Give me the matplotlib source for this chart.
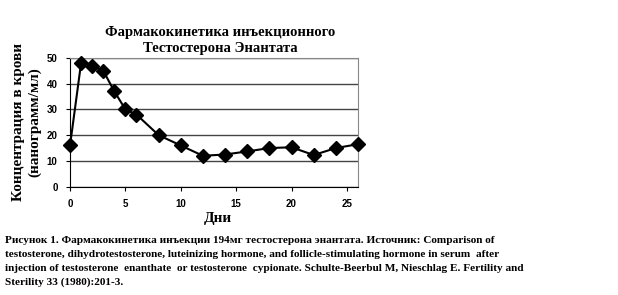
import matplotlib
matplotlib.use("Agg")
from matplotlib import pyplot as plt

days = [0, 1, 2, 3, 4, 5, 6, 8, 10, 12, 14, 16, 18, 20, 22, 24, 26]
conc = [16, 48, 47, 45, 37, 30, 28, 20, 16, 12, 12.5, 13.7, 15, 15.3, 12.3, 15, 16.5]

x_ticks = [0, 5, 10, 15, 20, 25]
y_ticks = [0, 10, 20, 30, 40, 50]

title = "Фармакокинетика инъекционного\nТестостерона Энантата"
ylabel = "Концентрация в крови\n(нанограмм/мл)"
xlabel = "Дни"
caption_lines = [
    "Рисунок 1. Фармакокинетика инъекции 194мг тестостерона энантата. Источник: Comparison of",
    "testosterone, dihydrotestosterone, luteinizing hormone, and follicle-stimulating hormone in serum  after",
    "injection of testosterone  enanthate  or testosterone  cypionate. Schulte-Beerbul M, Nieschlag E. Fertility and",
    "Sterility 33 (1980):201-3.",
]

serif = "Liberation Serif"
sans = "Liberation Sans"

fig = plt.figure(figsize=(6.18, 2.95), dpi=100)
ax = fig.add_axes([0.1133, 0.367, 0.466, 0.437])

ax.plot(days, conc, color="black", linewidth=1.5, marker="D", markersize=7, clip_on=False, zorder=3)
ax.set_xlim(0, 26)
ax.set_ylim(0, 50)
ax.set_xticks(x_ticks)
ax.set_yticks(y_ticks)
ax.grid(axis="y", color="#444444", linewidth=1)
for s in ["top", "right"]:
    ax.spines[s].set_color("#888888")
for s in ["left", "bottom"]:
    ax.spines[s].set_color("black")
ax.tick_params(labelsize=7, length=3, pad=6)
for lab in ax.get_xticklabels() + ax.get_yticklabels():
    lab.set_fontfamily(sans)
    lab.set_fontweight("bold")

fig.text(0.356, 0.862, title, ha="center", va="center", fontsize=10.5,
         fontweight="bold", family=serif, linespacing=1.35)
fig.text(0.043, 0.585, ylabel, ha="center", va="center", rotation=90, fontsize=11,
         fontweight="bold", family=serif, linespacing=1.25)
fig.text(0.353, 0.26, xlabel, ha="center", va="center", fontsize=11,
         fontweight="bold", family=serif)

# caption, one line at a time so the spacing matches
for i, line in enumerate(caption_lines):
    fig.text(0.008, 0.186 - i * 0.0475, line, ha="left", va="center", fontsize=8.1,
             fontweight="bold", family=serif)

fig.savefig("out.png", dpi=100)
